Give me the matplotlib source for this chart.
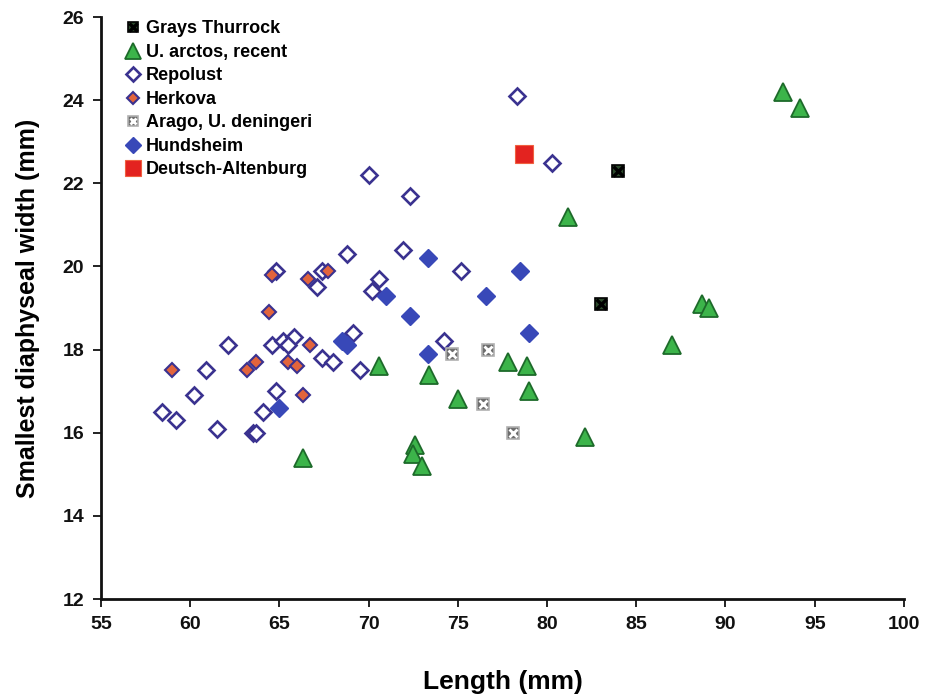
import matplotlib
matplotlib.use("Agg")
import matplotlib.pyplot as plt
from matplotlib import font_manager

# Measurements: length (mm) vs smallest diaphyseal width (mm)
grays_x = [84.0, 83.0]
grays_y = [22.3, 19.1]

arctos_x = [93.2, 94.2, 81.2, 88.7, 89.1, 87.0, 70.6, 77.8, 78.9, 73.4, 79.0,
            75.0, 82.1, 66.3, 72.6, 72.5, 73.0]
arctos_y = [24.2, 23.8, 21.2, 19.1, 19.0, 18.1, 17.6, 17.7, 17.6, 17.4, 17.0,
            16.8, 15.9, 15.4, 15.7, 15.5, 15.2]

repolust_x = [78.3, 80.3, 70.0, 72.3, 68.8, 71.9, 75.2, 70.6, 70.2, 69.1, 74.2,
              69.5, 64.8, 67.4, 67.1, 62.1, 64.6, 65.2, 65.8, 65.5, 67.4, 68.0,
              60.9, 60.2, 64.8, 64.1, 58.4, 59.2, 61.5, 63.5, 63.7]
repolust_y = [24.1, 22.5, 22.2, 21.7, 20.3, 20.4, 19.9, 19.7, 19.4, 18.4, 18.2,
              17.5, 19.9, 19.9, 19.5, 18.1, 18.1, 18.2, 18.3, 18.1, 17.8, 17.7,
              17.5, 16.9, 17.0, 16.5, 16.5, 16.3, 16.1, 16.0, 16.0]

herkova_x = [64.6, 66.6, 67.7, 64.4, 66.7, 59.0, 63.2, 63.7, 65.5, 66.0, 66.3]
herkova_y = [19.8, 19.7, 19.9, 18.9, 18.1, 17.5, 17.5, 17.7, 17.7, 17.6, 16.9]

arago_x = [74.7, 76.7, 76.4, 78.1]
arago_y = [17.9, 18.0, 16.7, 16.0]

hundsheim_x = [73.3, 78.5, 76.6, 71.0, 72.3, 79.0, 73.3, 68.5, 68.8, 65.0]
hundsheim_y = [20.2, 19.9, 19.3, 19.3, 18.8, 18.4, 17.9, 18.2, 18.1, 16.6]

deutsch_x = [78.7]
deutsch_y = [22.7]

x_ticks = [55, 60, 65, 70, 75, 80, 85, 90, 95, 100]
y_ticks = [12, 14, 16, 18, 20, 22, 24, 26]

installed = {f.name for f in font_manager.fontManager.ttflist}
family = [f for f in ["Liberation Sans Narrow", "Liberation Sans", "DejaVu Sans"]
          if f in installed]
plt.rcParams["font.family"] = family
plt.rcParams["font.weight"] = "bold"

fig = plt.figure(figsize=(9.29, 6.97), dpi=100)
ax = fig.add_axes([0.1087, 0.1406, 0.8643, 0.835])

navy = "#3a3290"

h_grays_bg, = ax.plot(grays_x, grays_y, ls="none", marker="s", ms=8.5,
                      mfc="#2c4a2c", mec="black", mew=1.2, zorder=3)
h_grays_x, = ax.plot(grays_x, grays_y, ls="none", marker="x", ms=6.5,
                     mec="black", mew=2.4, zorder=3.1)
h_arctos, = ax.plot(arctos_x, arctos_y, ls="none", marker="^", ms=12.5,
                    mfc="#3cb44a", mec="#1d6a2a", mew=1.3, zorder=3)
h_repolust, = ax.plot(repolust_x, repolust_y, ls="none", marker="D", ms=8.3,
                      mfc="white", mec=navy, mew=1.9, zorder=3)
h_herkova, = ax.plot(herkova_x, herkova_y, ls="none", marker="D", ms=6.8,
                     mfc="#e2643c", mec=navy, mew=1.5, zorder=4)
h_arago_bg, = ax.plot(arago_x, arago_y, ls="none", marker="s", ms=8.5,
                      mfc="#6e6e6e", mec="#b0b0b0", mew=1.2, zorder=4)
h_arago_x, = ax.plot(arago_x, arago_y, ls="none", marker="x", ms=5.5,
                     mec="white", mew=2.0, zorder=4.1)
h_hund, = ax.plot(hundsheim_x, hundsheim_y, ls="none", marker="D", ms=9.6,
                  mfc="#3848b8", mec="#3848b8", mew=1.0, zorder=4)
h_deutsch, = ax.plot(deutsch_x, deutsch_y, ls="none", marker="s", ms=13,
                     mfc="#e32320", mec="#f06040", mew=0.8, zorder=4)

ax.set_xlim(55, 100)
ax.set_ylim(12, 26)
ax.set_xticks(x_ticks)
ax.set_yticks(y_ticks)

for side in ("top", "right"):
    ax.spines[side].set_visible(False)
for side in ("left", "bottom"):
    ax.spines[side].set_linewidth(2.0)
    ax.spines[side].set_color("#111111")

ax.tick_params(axis="both", direction="out", length=6, width=1.3,
               labelsize=14, colors="#111111", pad=6)
for lbl in ax.get_xticklabels() + ax.get_yticklabels():
    lbl.set_fontweight("bold")

ax.set_xlabel("Length (mm)", fontsize=19, fontweight="bold", labelpad=27)
ax.set_ylabel("Smallest diaphyseal width (mm)", fontsize=18,
              fontweight="bold", labelpad=16)

leg = ax.legend(
    [(h_grays_bg, h_grays_x), h_arctos, h_repolust, h_herkova,
     (h_arago_bg, h_arago_x), h_hund, h_deutsch],
    ["Grays Thurrock", "U. arctos, recent", "Repolust", "Herkova",
     "Arago, U. deningeri", "Hundsheim", "Deutsch-Altenburg"],
    loc="upper left", bbox_to_anchor=(0.008, 1.022), frameon=False,
    handlelength=1.0, handletextpad=0.25, labelspacing=0.36,
    prop={"weight": "bold", "size": 13}, markerscale=0.9,
)

fig.savefig("out.png", dpi=100, facecolor="white")
